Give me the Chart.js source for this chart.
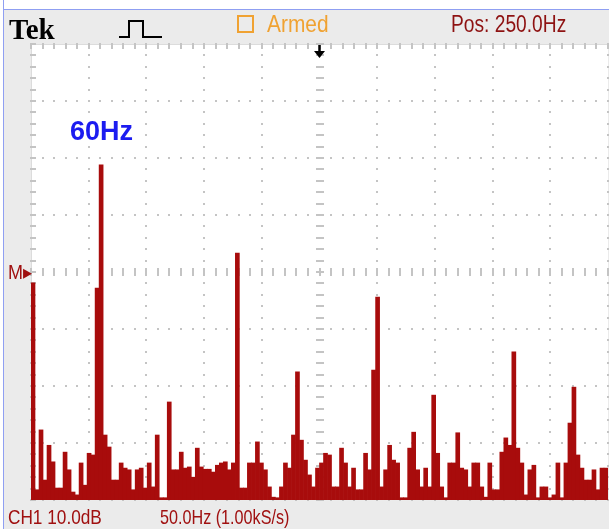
<!DOCTYPE html>
<html>
<head>
<meta charset="utf-8">
<title>Tek FFT</title>
<script src="https://cdn.jsdelivr.net/npm/chart.js@4.4.1/dist/chart.umd.min.js"></script>
<style>
  html, body { margin: 0; padding: 0; background: #fff; }
  #scope {
    position: relative; width: 609px; height: 529px; overflow: hidden;
    background: #ebebeb;
    font-family: "Liberation Sans", Arial, sans-serif;
  }
  #scope canvas { position: absolute; left: 0; top: 0; }
  .lbl { position: absolute; white-space: nowrap; line-height: 1; transform-origin: 0 0; }
  #frameTop { position: absolute; left: 0; top: 0; width: 609px; height: 9px; background: #fff; border-bottom: 1px solid #8f9ff2; }
  #frameLeft { position: absolute; left: 0; top: 0; width: 3px; height: 529px; background: #fff; border-right: 1px solid #8f9ff2; }
  #tek { left: 9px; top: 13px; font: bold 29px "Liberation Serif", "DejaVu Serif", serif; color: #000; }
  #box { position: absolute; left: 237px; top: 15px; width: 13px; height: 14px; border: 2px solid #f0a232; }
  #armed { left: 267px; top: 12px; font-size: 24px; color: #f0a232; transform: scaleX(0.87); }
  #pos { left: 451px; top: 12px; font-size: 24px; color: #8e1212; transform: scaleX(0.8); }
  #ch1 { left: 8px; top: 506px; font-size: 21px; color: #a01010; transform: scaleX(0.82); }
  #span { left: 160px; top: 506px; font-size: 21px; color: #a01010; transform: scaleX(0.77); }
  #note { left: 70px; top: 116px; font: bold 27px "Liberation Sans", Arial, sans-serif; color: #1c1cf0; }
  #mark { left: 8px; top: 262px; font-size: 20px; color: #a01010; transform: scaleX(0.9); }
  svg { position: absolute; }
</style>
</head>
<body>
<div id="scope">
  <canvas id="fft" width="609" height="529"></canvas>
  <div id="frameTop"></div>
  <div id="frameLeft"></div>
  <div class="lbl" id="tek">Tek</div>
  <svg style="left:119px;top:18px" width="46" height="22"><path d="M0 19 H10 V3 H24 V19 H43" fill="none" stroke="#000" stroke-width="2"/></svg>
  <div id="box"></div>
  <div class="lbl" id="armed">Armed</div>
  <div class="lbl" id="pos">Pos: 250.0Hz</div>
  <svg style="left:313px;top:45px" width="13" height="14"><path d="M6.5 0 V7" stroke="#000" stroke-width="2.5"/><path d="M1 6 H12 L6.5 13 Z" fill="#000"/></svg>
  <div class="lbl" id="note">60Hz</div>
  <div class="lbl" id="mark">M&#9656;</div>
  <div class="lbl" id="ch1">CH1 10.0dB</div>
  <div class="lbl" id="span">50.0Hz (1.00kS/s)</div>
</div>
<script>
// FFT display: 10 div x 50 Hz, 8 div x 10 dB, marker level at centre
const SPAN_HZ = 500;
const X_DIVS = 10;
const Y_DIVS = 8;
const FLOOR_DB = -40;
const TOP_DB = 40;
const TRACE = '#a80c0c';
const GRID = '#c4c4c4';

// magnitude of each bin in dB (left to right)
const levels = [
  -1.9, -38.2, -27.7, -36.5, -30.4, -33.3, -37.9, -37.9, -31.6, -34.7, -38.6, -39.1,
  -33.5, -37.4, -31.8, -32.1, -2.8, 18.8, -28.6, -30.7, -36.5, -36.5, -33.5, -34.4,
  -34.7, -38.2, -34.7, -34.4, -37.9, -33.5, -37.7, -28.6, -39.6, -39.6, -22.8, -34.7,
  -34.7, -31.6, -34.4, -34.2, -36.0, -30.9, -34.2, -34.6, -34.6, -35.1, -33.9, -33.5,
  -33.3, -34.7, -33.5, 3.3, -37.9, -37.9, -33.5, -33.5, -29.8, -33.5, -34.7, -37.7,
  -39.5, -39.6, -37.7, -33.5, -34.4, -28.6, -17.5, -29.5, -33.0, -35.6, -37.7, -34.4,
  -33.5, -31.8, -32.1, -37.7, -37.7, -30.9, -33.5, -37.7, -34.4, -38.2, -38.2, -31.8,
  -34.7, -17.2, -4.4, -37.7, -34.7, -30.4, -33.0, -33.5, -39.6, -39.6, -30.9, -28.1,
  -34.7, -37.7, -34.4, -37.7, -21.6, -31.8, -37.7, -39.6, -33.5, -33.5, -28.2, -34.4,
  -34.7, -37.7, -33.5, -33.5, -37.7, -39.5, -33.5, -38.2, -38.2, -31.6, -29.1, -30.4,
  -14.0, -30.9, -33.5, -39.1, -34.7, -33.9, -39.6, -37.7, -37.7, -39.6, -39.1, -33.5,
  -39.6, -33.5, -26.5, -20.2, -32.1, -34.4, -36.5, -36.5, -34.7, -38.2, -34.4, -34.4
];

const binHz = SPAN_HZ / levels.length;
const freqs = levels.map((_, i) => (i * binHz).toFixed(1));

// graticule: dotted divisions, tick marks on the centre lines and edges
const graticule = {
  id: 'graticule',
  beforeDatasetsDraw(chart) {
    const { ctx, chartArea: a } = chart;
    const dx = (a.right - a.left) / X_DIVS;
    const dy = (a.bottom - a.top) / Y_DIVS;
    ctx.save();
    ctx.fillStyle = '#fff';
    ctx.fillRect(a.left, a.top, a.right - a.left, a.bottom - a.top);

    ctx.fillStyle = '#dcdcdc';
    ctx.fillRect(Math.round(a.left), a.top, 1, a.bottom - a.top);
    ctx.fillRect(a.left, Math.round(a.top), a.right - a.left, 1);

    ctx.fillStyle = GRID;
    for (let i = 0; i <= X_DIVS; i++) {
      const x = Math.round(a.left + i * dx);
      for (let j = 0; j <= Y_DIVS * 5; j++) {
        ctx.fillRect(x - 1, Math.round(a.top + j * dy / 5) - 1, 2, 2);
      }
    }
    for (let j = 0; j <= Y_DIVS; j++) {
      const y = Math.round(a.top + j * dy);
      for (let i = 0; i <= X_DIVS * 5; i++) {
        ctx.fillRect(Math.round(a.left + i * dx / 5) - 1, y - 1, 2, 2);
      }
    }
    const cx = Math.round(a.left + dx * X_DIVS / 2);
    const cy = Math.round(a.top + dy * Y_DIVS / 2);
    for (let i = 0; i <= X_DIVS * 5; i++) {
      const x = Math.round(a.left + i * dx / 5);
      ctx.fillRect(x - 1, cy - 4, 2, 8);
      ctx.fillRect(x - 1, Math.round(a.top), 2, 5);
    }
    for (let j = 0; j <= Y_DIVS * 5; j++) {
      const y = Math.round(a.top + j * dy / 5);
      ctx.fillRect(cx - 4, y - 1, 8, 2);
      ctx.fillRect(Math.round(a.left), y - 1, 5, 2);
    }
    ctx.restore();
  }
};

new Chart(document.getElementById('fft'), {
  type: 'bar',
  data: {
    labels: freqs,
    datasets: [{
      label: 'CH1 FFT',
      data: levels,
      base: FLOOR_DB,
      backgroundColor: TRACE,
      borderWidth: 0,
      barPercentage: 1,
      categoryPercentage: 1
    }]
  },
  options: {
    responsive: false,
    animation: false,
    events: [],
    layout: { padding: { left: 31, top: 44, right: 1, bottom: 29 } },
    plugins: { legend: { display: false }, tooltip: { enabled: false } },
    scales: {
      x: { display: false },
      y: { display: false, min: FLOOR_DB, max: TOP_DB }
    }
  },
  plugins: [graticule]
});
</script>
</body>
</html>
